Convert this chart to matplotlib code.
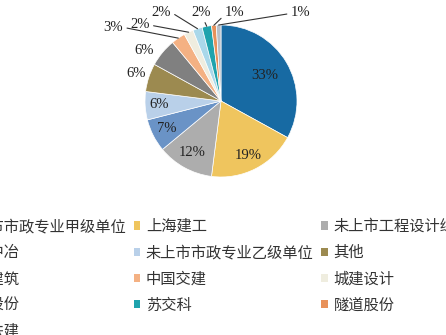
import numpy as np
import matplotlib
matplotlib.use('Agg')
import matplotlib.pyplot as plt
from matplotlib.patches import Patch

names = ['未上市市政专业甲级单位', '上海建工', '未上市工程设计综合甲级单位',
         '中国中冶', '未上市市政专业乙级单位', '其他',
         '中国建筑', '中国交建', '城建设计',
         '宏润股份', '苏交科', '隧道股份',
         '中国铁建']
shares = [33, 19, 12, 7, 6, 6, 6, 3, 2, 2, 2, 1, 1]
colors = ['#176aa3', '#efc55e', '#adadad', '#6a93c6', '#b9d0e9', '#9c8a50',
          '#808080', '#f4b183', '#efeddf', '#a9d8ea', '#1fa3ad', '#e8915a',
          '#b9c0c8']

# label placement: (radius factor, angle shift) for labels without leader,
# (x, y, relpos) for labels with leader line
inner_pos = [(0.67, 0), (0.8, 0), (0.78, 0), (0.8, 0), (0.82, 0),
             (1.17, 0), (1.21, 6)]
outer_pos = [(-1.42, 0.97, (1, 0.5)), (-1.07, 1.0, (1, 0.5)),
             (-0.79, 1.17, (1, 0.5)), (-0.26, 1.17, (0.6, 0)),
             (0.18, 1.17, (0, 0.3)), (1.05, 1.17, (0, 0.4))]

plt.rcParams['font.family'] = ['Noto Sans CJK SC', 'DejaVu Sans']

fig = plt.figure(figsize=(4.46, 3.35), dpi=100)
W, H = 446, 335
cx, cy, R = 221, 101, 76
ax = fig.add_axes([(cx - R) / W, 1 - (cy + R) / H, 2 * R / W, 2 * R / H])

wedges, _ = ax.pie(shares, colors=colors, startangle=90, counterclock=False,
                   wedgeprops=dict(edgecolor='white', linewidth=0.5))
ax.set_xlim(-1, 1)
ax.set_ylim(-1, 1)
ax.set_aspect('auto')
ax.axis('off')

lab_font = dict(family='Liberation Serif', fontsize=10.5, color='#222222')
for i, w in enumerate(wedges):
    mid = np.deg2rad((w.theta1 + w.theta2) / 2)
    txt = f'{shares[i]}%'
    if i < len(inner_pos):
        r, dt = inner_pos[i]
        a = mid + np.deg2rad(dt)
        ax.text(r * np.cos(a), r * np.sin(a), txt, ha='center', va='center',
                **lab_font)
    else:
        x, y, rel = outer_pos[i - len(inner_pos)]
        ax.annotate(txt, xy=(np.cos(mid), np.sin(mid)), xytext=(x, y),
                    ha='center', va='center', annotation_clip=False,
                    arrowprops=dict(arrowstyle='-', color='#333333', lw=0.8,
                                    relpos=rel, shrinkA=1, shrinkB=0),
                    **lab_font)

# legend is filled row by row in the reference; matplotlib fills by column
ncol = 3
order = [i for c in range(ncol) for i in range(c, len(names), ncol)]
handles = [Patch(facecolor=colors[i], edgecolor='none') for i in order]
labels = [names[i] for i in order]
fig.legend(handles, labels, ncol=ncol, loc='upper left',
           bbox_to_anchor=(-54 / W, 1 - 218 / H), frameon=False,
           fontsize=11, handlelength=0.45, handleheight=0.45,
           handletextpad=0.35, columnspacing=0.5, labelspacing=0.6,
           borderpad=0, borderaxespad=0, labelcolor='#333333')

fig.savefig('out.png', dpi=100)
